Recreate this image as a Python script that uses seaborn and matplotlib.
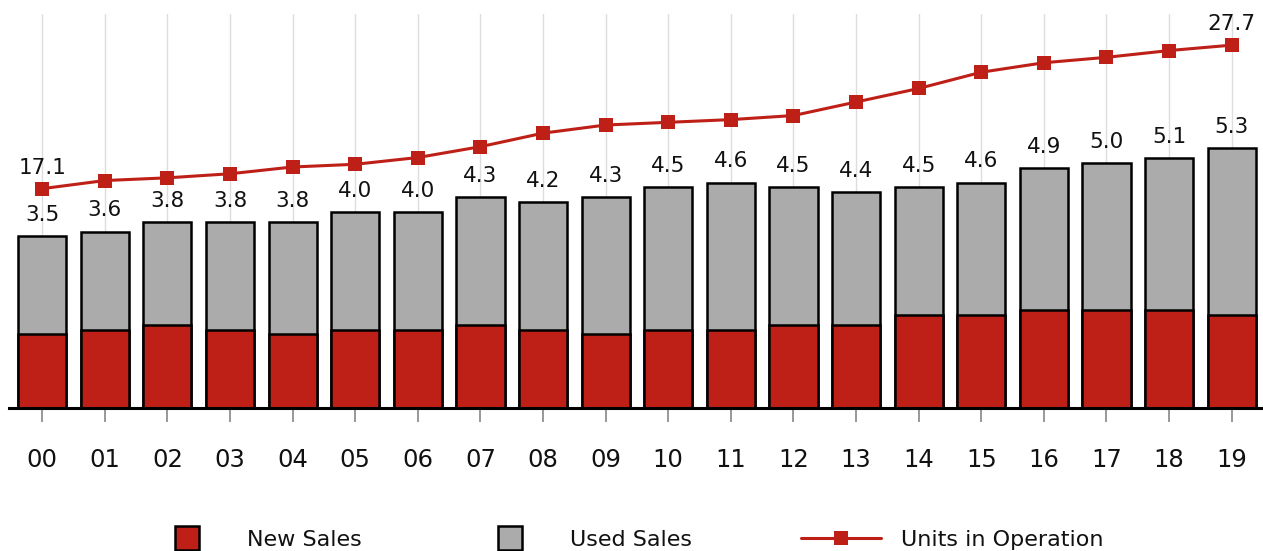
import numpy as np
import pandas as pd
import matplotlib
matplotlib.use("Agg")
import matplotlib.pyplot as plt
import seaborn as sns
from matplotlib.patches import Patch, Rectangle
from matplotlib.lines import Line2D
from matplotlib.legend_handler import HandlerPatch

# ---- data ----
years = ["00", "01", "02", "03", "04", "05", "06", "07", "08", "09",
         "10", "11", "12", "13", "14", "15", "16", "17", "18", "19"]
new_sales = [1.5, 1.6, 1.7, 1.6, 1.5, 1.6, 1.6, 1.7, 1.6, 1.5,
             1.6, 1.6, 1.7, 1.7, 1.9, 1.9, 2.0, 2.0, 2.0, 1.9]
used_sales = [2.0, 2.0, 2.1, 2.2, 2.3, 2.4, 2.4, 2.6, 2.6, 2.8,
              2.9, 3.0, 2.8, 2.7, 2.6, 2.7, 2.9, 3.0, 3.1, 3.4]
units_in_operation = [17.1, 17.7, 17.9, 18.2, 18.7, 18.9, 19.4, 20.2, 21.2, 21.8,
                      22.0, 22.2, 22.5, 23.5, 24.5, 25.7, 26.4, 26.8, 27.3, 27.7]
legend_labels = ["New Sales", "Used Sales", "Units in Operation"]

RED = "#BE2018"
GRAY = "#ABABAB"

sns.set_style("white")
plt.rcParams["font.family"] = ["DejaVu Sans"]

df = pd.DataFrame({"year": years, "new": new_sales, "used": used_sales})
df["total"] = df["new"] + df["used"]
df["pos"] = np.arange(len(years))
df["units"] = units_in_operation

fig = plt.figure(figsize=(12.63, 5.51), dpi=100)
ax = fig.add_axes([9 / 1263, (551 - 408) / 551, 1 - 9 / 1263, (408 - 14) / 551])

sns.barplot(data=df, x="year", y="total", color=GRAY, edgecolor="black",
            linewidth=1.8, width=0.77, saturation=1, ax=ax, zorder=2)
sns.barplot(data=df, x="year", y="new", color=RED, edgecolor="black",
            linewidth=1.8, width=0.77, saturation=1, ax=ax, zorder=3)

ax.set_ylim(0, 8.04)
ax.set_xlim(-0.53, 19.5)
ax.set_xlabel("")
ax.set_ylabel("")
ax.set_yticks([])
ax.set_axisbelow(True)
ax.xaxis.grid(True, color="#DDDDDD", linewidth=1)
for s in ["left", "right", "top"]:
    ax.spines[s].set_visible(False)
ax.spines["bottom"].set_color("black")
ax.spines["bottom"].set_linewidth(2.2)
ax.spines["bottom"].set_zorder(5)
ax.tick_params(axis="x", bottom=True, length=10, width=1.2, color="#888888",
               pad=19, labelsize=17.5, labelcolor="#111111")

for p, t in zip(df["pos"], df["total"]):
    ax.annotate(f"{t:.1f}", (p, t), xytext=(0, 8), textcoords="offset points",
                ha="center", va="bottom", fontsize=15.5, color="#111111", zorder=6)

ax2 = ax.twinx()
sns.lineplot(data=df, x="pos", y="units", color=RED, linewidth=2.2, marker="s",
             markersize=10, markeredgewidth=0, ax=ax2, zorder=4)
ax2.set_ylim(0.9, 30.0)
ax2.set_xlim(-0.53, 19.5)
ax2.set_yticks([])
ax2.set_ylabel("")
ax2.set_xlabel("")
for s in ax2.spines.values():
    s.set_visible(False)
for i in [0, len(years) - 1]:
    ax2.annotate(f"{units_in_operation[i]:.1f}", (i, units_in_operation[i]),
                 xytext=(0, 8), textcoords="offset points", ha="center",
                 va="bottom", fontsize=15.5, color="#111111")


class CenteredSquare(HandlerPatch):
    def create_artists(self, legend, orig_handle, xdescent, ydescent, width,
                       height, fontsize, trans):
        s = 17.5
        r = Rectangle((width / 2 - s / 2 - xdescent, height / 2 - s / 2 - ydescent),
                      s, s, facecolor=orig_handle.get_facecolor(),
                      edgecolor="black", linewidth=1.8, transform=trans)
        return [r]


handles = [Patch(facecolor=RED, edgecolor="black"),
           Patch(facecolor=GRAY, edgecolor="black"),
           Line2D([], [], color=RED, linewidth=2.2, marker="s", markersize=10,
                  markeredgewidth=0)]
leg = fig.legend(handles, legend_labels, loc="center", bbox_to_anchor=(0.495, 0.02),
                 ncol=3, frameon=False, fontsize=16, handlelength=3.6,
                 handletextpad=0.9, columnspacing=4.9, numpoints=1,
                 handler_map={Patch: CenteredSquare()})
for t in leg.get_texts():
    t.set_color("#111111")

fig.savefig("out.png", dpi=100)
